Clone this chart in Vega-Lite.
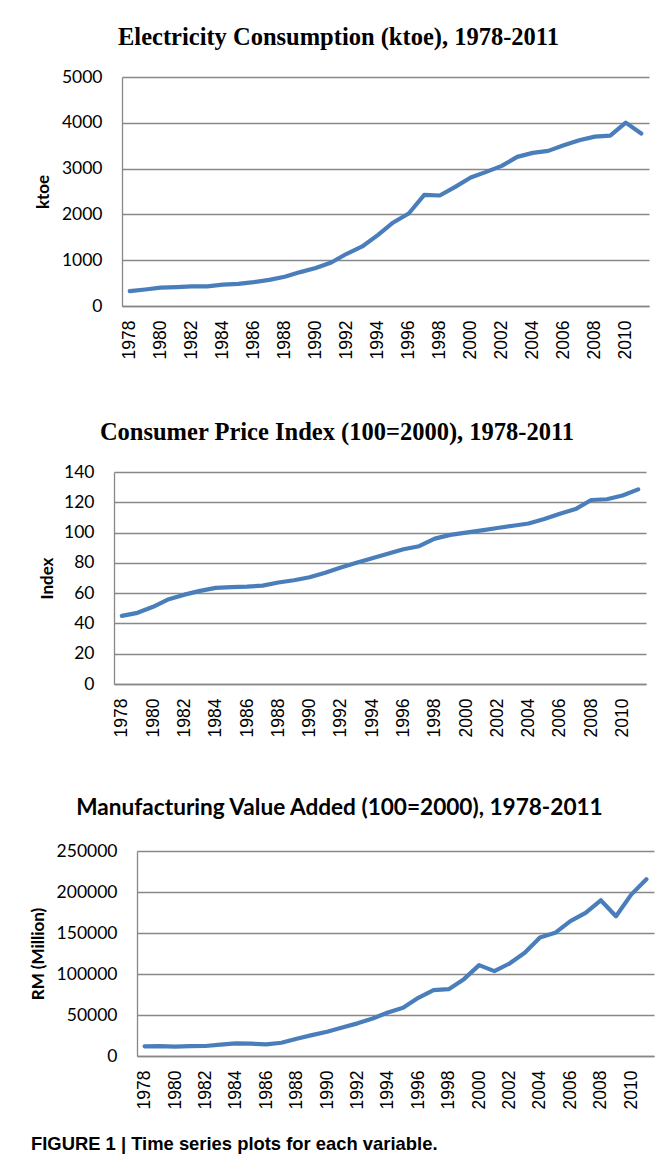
{
  "$schema": "https://vega.github.io/schema/vega-lite/v6.json",
  "background": "white",
  "padding": {"left": 27, "top": 24, "right": 5, "bottom": 5},
  "datasets": {
    "d": [
      {"year": 1978, "elec": 325, "cpi": 45, "mva": 11800},
      {"year": 1979, "elec": 360, "cpi": 47, "mva": 12000},
      {"year": 1980, "elec": 400, "cpi": 51, "mva": 11400},
      {"year": 1981, "elec": 412, "cpi": 56, "mva": 12000},
      {"year": 1982, "elec": 428, "cpi": 59, "mva": 12200},
      {"year": 1983, "elec": 430, "cpi": 61.5, "mva": 13800},
      {"year": 1984, "elec": 465, "cpi": 63.5, "mva": 15400},
      {"year": 1985, "elec": 485, "cpi": 64, "mva": 15000},
      {"year": 1986, "elec": 520, "cpi": 64.3, "mva": 14200},
      {"year": 1987, "elec": 570, "cpi": 65, "mva": 16200},
      {"year": 1988, "elec": 640, "cpi": 67, "mva": 21000},
      {"year": 1989, "elec": 740, "cpi": 68.5, "mva": 25500},
      {"year": 1990, "elec": 830, "cpi": 70.5, "mva": 29600},
      {"year": 1991, "elec": 950, "cpi": 73.5, "mva": 34800},
      {"year": 1992, "elec": 1140, "cpi": 77, "mva": 39800},
      {"year": 1993, "elec": 1300, "cpi": 80, "mva": 45800},
      {"year": 1994, "elec": 1548, "cpi": 83, "mva": 53000},
      {"year": 1995, "elec": 1824, "cpi": 86, "mva": 58800},
      {"year": 1996, "elec": 2020, "cpi": 89, "mva": 71000},
      {"year": 1997, "elec": 2427, "cpi": 91, "mva": 80300},
      {"year": 1998, "elec": 2413, "cpi": 96, "mva": 81500},
      {"year": 1999, "elec": 2602, "cpi": 98.5, "mva": 93700},
      {"year": 2000, "elec": 2805, "cpi": 100, "mva": 110800},
      {"year": 2001, "elec": 2929, "cpi": 101.5, "mva": 103500},
      {"year": 2002, "elec": 3060, "cpi": 103, "mva": 112800},
      {"year": 2003, "elec": 3256, "cpi": 104.5, "mva": 125800},
      {"year": 2004, "elec": 3343, "cpi": 106, "mva": 144500},
      {"year": 2005, "elec": 3387, "cpi": 109, "mva": 150200},
      {"year": 2006, "elec": 3510, "cpi": 112.5, "mva": 164400},
      {"year": 2007, "elec": 3619, "cpi": 115.5, "mva": 174500},
      {"year": 2008, "elec": 3699, "cpi": 121.5, "mva": 189900},
      {"year": 2009, "elec": 3721, "cpi": 122, "mva": 170400},
      {"year": 2010, "elec": 4004, "cpi": 124.5, "mva": 196800},
      {"year": 2011, "elec": 3765, "cpi": 128.5, "mva": 215500}
    ]
  },
  "spacing": 60,
  "title": {
    "text": "FIGURE 1 | Time series plots for each variable.",
    "orient": "bottom",
    "anchor": "start",
    "font": "Liberation Sans",
    "fontSize": 18.4,
    "fontWeight": "bold",
    "color": "#000000",
    "offset": 26,
    "dx": 4
  },
  "vconcat": [
    {
      "spacing": 0,
      "hconcat": [
        {"width": 6.4, "height": 10, "data": {"values": []}, "mark": "point"},
        {
          "data": {"name": "d"},
          "width": 527,
          "height": 229,
          "title": {"text": "Electricity Consumption (ktoe), 1978-2011", "font": "Liberation Serif", "fontSize": 24.5, "fontWeight": "bold", "anchor": "middle", "offset": 18, "dx": -47, "color": "#000000"},
          "mark": {"type": "line", "color": "#4A7EBB", "strokeWidth": 4.2, "strokeCap": "round", "strokeJoin": "round"},
          "encoding": {
            "x": {"field": "year", "type": "ordinal", "axis": {"title": null, "values": [1978,1980,1982,1984,1986,1988,1990,1992,1994,1996,1998,2000,2002,2004,2006,2008,2010]}},
            "y": {"field": "elec", "type": "quantitative", "scale": {"domain": [0, 5000], "nice": false}, "axis": {"title": "ktoe", "titlePadding": 9, "format": "d", "values": [0,1000,2000,3000,4000,5000]}}
          }
        }
      ]
    },
    {
      "spacing": 0,
      "hconcat": [
        {"width": 10.7, "height": 10, "data": {"values": []}, "mark": "point"},
        {
          "data": {"name": "d"},
          "width": 532,
          "height": 212,
          "title": {"text": "Consumer Price Index (100=2000), 1978-2011", "font": "Liberation Serif", "fontSize": 24.5, "fontWeight": "bold", "anchor": "middle", "offset": 18, "dx": -43, "color": "#000000"},
          "mark": {"type": "line", "color": "#4A7EBB", "strokeWidth": 4.2, "strokeCap": "round", "strokeJoin": "round"},
          "encoding": {
            "x": {"field": "year", "type": "ordinal", "axis": {"title": null, "values": [1978,1980,1982,1984,1986,1988,1990,1992,1994,1996,1998,2000,2002,2004,2006,2008,2010]}},
            "y": {"field": "cpi", "type": "quantitative", "scale": {"domain": [0, 140], "nice": false}, "axis": {"title": "Index", "titlePadding": 7.4, "values": [0,20,40,60,80,100,120,140]}}
          }
        }
      ]
    },
    {
      "spacing": 0,
      "hconcat": [
        {"width": 1.3, "height": 10, "data": {"values": []}, "mark": "point"},
        {
          "data": {"name": "d"},
          "width": 517,
          "height": 205,
          "title": {"text": "Manufacturing Value Added (100=2000), 1978-2011", "font": "Lato", "fontSize": 22.6, "fontWeight": "bold", "anchor": "middle", "offset": 22, "dx": -56, "color": "#000000"},
          "mark": {"type": "line", "color": "#4A7EBB", "strokeWidth": 4.2, "strokeCap": "round", "strokeJoin": "round"},
          "encoding": {
            "x": {"field": "year", "type": "ordinal", "axis": {"title": null, "values": [1978,1980,1982,1984,1986,1988,1990,1992,1994,1996,1998,2000,2002,2004,2006,2008,2010]}},
            "y": {"field": "mva", "type": "quantitative", "scale": {"domain": [0, 250000], "nice": false}, "axis": {"title": "RM (Million)", "titlePadding": 8.8, "values": [0,50000,100000,150000,200000,250000], "format": "d"}}
          }
        }
      ]
    }
  ],
  "config": {
    "view": {"stroke": null},
    "axis": {
      "domainColor": "#888888",
      "domainWidth": 1.3,
      "gridColor": "#888888",
      "gridWidth": 1.3,
      "ticks": false,
      "tickSize": 0,
      "labelColor": "#000000",
      "titleColor": "#000000"
    },
    "axisX": {
      "grid": false,
      "labelAngle": 270,
      "labelFont": "Liberation Sans",
      "labelFontSize": 17.5,
      "labelPadding": 14,
      "labelOverlap": false
    },
    "axisY": {
      "grid": true,
      "labelFont": "Lato",
      "labelFontSize": 17.5,
      "labelPadding": 20,
      "titleFont": "Lato",
      "titleFontSize": 17,
      "titleFontWeight": "bold"
    }
  }
}
